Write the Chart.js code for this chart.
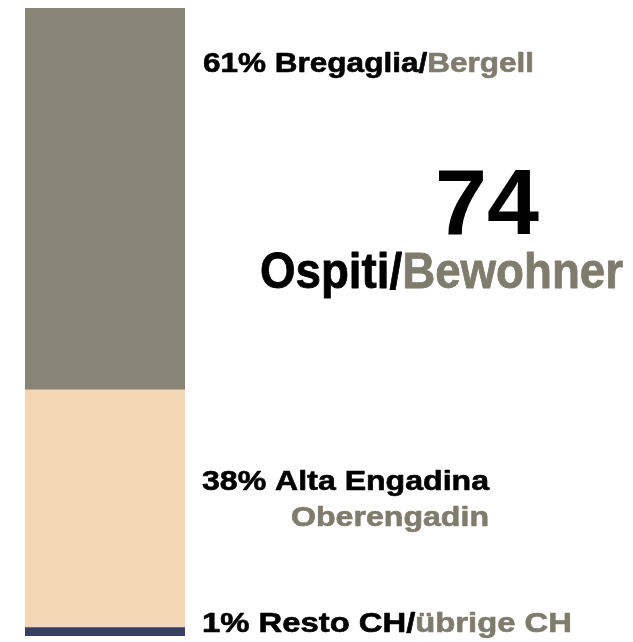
<!DOCTYPE html>
<html>
<head>
<meta charset="utf-8">
<title>Ospiti/Bewohner</title>
<script src="https://cdn.jsdelivr.net/npm/chart.js@4/dist/chart.umd.min.js"></script>
<style>
  html, body { margin: 0; padding: 0; background: #ffffff; }
  #wrap { width: 633px; height: 642px; position: relative; }
</style>
</head>
<body>
<div id="wrap"><canvas id="chart" width="633" height="642"></canvas></div>
<script>
// ── Data (stack order: bottom → top) ─────
const regionsIt = ["Resto CH", "Alta Engadina", "Bregaglia"];
const regionsDe = ["übrige CH", "Oberengadin", "Bergell"];
const residents = [1, 28, 45];
const shares    = ["1%", "38%", "61%"];
const totalGuests = 74;
const titleIt = "Ospiti";
const titleDe = "Bewohner";

const BAR_COLORS = ["#393f62", "#f3d6b4", "#888577"];
const INK   = "#000000";
const MUTED = "#7f7c6e";
const FONT  = '"Liberation Sans", Arial, Helvetica, sans-serif';

// Draw a run of coloured text parts, squeezed/stretched to a target width
function fitText(ctx, parts, x, y, size, width, align, weight) {
  ctx.save();
  ctx.font = `bold ${size}px ${FONT}`;
  ctx.textBaseline = "alphabetic";
  ctx.textAlign = "left";
  ctx.lineJoin = "round";
  ctx.lineWidth = weight || 0;
  const natural = parts.reduce((s, p) => s + ctx.measureText(p.t).width, 0);
  const sx = width / natural;
  let left = x;
  if (align === "right")  left = x - width;
  if (align === "center") left = x - width / 2;
  ctx.translate(left, y);
  ctx.scale(sx, 1);
  let cx = 0;
  parts.forEach(p => {
    ctx.fillStyle = p.c;
    ctx.strokeStyle = p.c;
    ctx.fillText(p.t, cx, 0);
    if (weight) ctx.strokeText(p.t, cx, 0);
    cx += ctx.measureText(p.t).width;
  });
  ctx.restore();
}

// ── Labels next to the stacked bar ───────
const labelPlugin = {
  id: "sideLabels",
  afterDraw(chart) {
    const ctx = chart.ctx;
    const area = chart.chartArea;
    const x = area.right + 17;
    const seg = i => chart.getDatasetMeta(i).data[0];

    // top segment: Bregaglia
    const top = seg(2);
    fitText(ctx, [{ t: shares[2] + " " + regionsIt[2] + "/", c: INK }, { t: regionsDe[2], c: MUTED }],
      x + 1, top.y + 64, 27, 331, "left", 0.6);

    // middle segment: Alta Engadina (two lines, right edges aligned)
    const mid = seg(1);
    fitText(ctx, [{ t: shares[1] + " " + regionsIt[1], c: INK }], x, mid.y + 100, 27, 287, "left", 0.6);
    fitText(ctx, [{ t: regionsDe[1], c: MUTED }], x + 287, mid.y + 136, 27, 198, "right", 0.6);

    // bottom segment: Resto CH
    const bot = seg(0);
    fitText(ctx, [{ t: shares[0] + " " + regionsIt[0] + "/", c: INK }, { t: regionsDe[0], c: MUTED }],
      x, bot.base - 4, 27, 370, "left", 0.6);

    // total headline
    fitText(ctx, [{ t: String(totalGuests), c: INK }], 487, 234, 92, 104, "center", 0);
    fitText(ctx, [{ t: titleIt + "/", c: INK }, { t: titleDe, c: MUTED }], 260, 288, 50, 363, "left", 0.8);
  }
};

// ── Chart ─────────────────────────────────
new Chart(document.getElementById("chart"), {
  type: "bar",
  data: {
    labels: ["Ospiti"],
    datasets: residents.map((v, i) => ({
      label: regionsIt[i],
      data: [v],
      backgroundColor: BAR_COLORS[i],
      borderWidth: 0,
      barPercentage: 1,
      categoryPercentage: 1,
    })),
  },
  options: {
    responsive: false,
    animation: false,
    layout: { padding: { left: 25, right: 448, top: 8, bottom: 6 } },
    plugins: { legend: { display: false }, tooltip: { enabled: false } },
    scales: {
      x: { stacked: true, display: false },
      y: { stacked: true, display: false, min: 0, max: residents.reduce((a, b) => a + b, 0) },
    },
  },
  plugins: [labelPlugin],
});
</script>
</body>
</html>
